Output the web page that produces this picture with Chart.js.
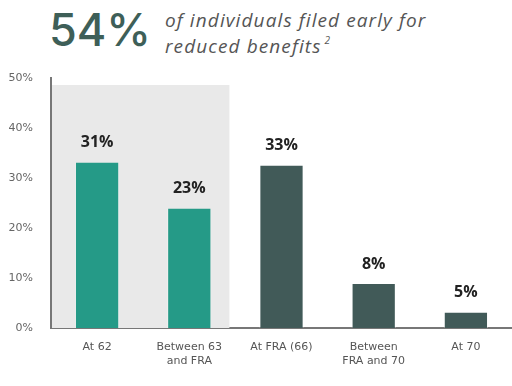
<!DOCTYPE html>
<html>
<head>
<meta charset="utf-8">
<script src="https://cdn.jsdelivr.net/npm/chart.js@4"></script>
<style>
  body { margin: 0; background: #fff; }
  #wrap { position: relative; width: 512px; height: 386px; overflow: hidden; }
  #big { position: absolute; left: 49px; top: 2px; font-family: "Inter"; font-weight: 500; font-size: 45px; letter-spacing: 0px; color: #3e5f58; }
  #sub { position: absolute; left: 165px; top: 10px; font-family: "Open Sans"; font-style: italic; font-weight: 400; font-size: 19px; letter-spacing: 1.1px; line-height: 20px; color: #555; }
  #sub sup { font-size: 10px; vertical-align: 9px; margin-left: 3px; }
  canvas { position: absolute; left: 0; top: 0; }
</style>
</head>
<body>
<div id="wrap">
  <div id="big">54%</div>
  <div id="sub">of individuals filed early for<br>reduced benefits<sup>2</sup></div>
  <canvas id="cv"></canvas>
</div>
<script>
let categorias = [['At 62'], ['Between 63', 'and FRA'], ['At FRA (66)'], ['Between', 'FRA and 70'], ['At 70']];
let valores = [33.1, 23.9, 32.5, 8.8, 3.1];
let rotulos = ['31%', '23%', '33%', '8%', '5%'];
let cores = ['#259a87', '#259a87', '#415a58', '#415a58', '#415a58'];
let ticksY = [0, 10, 20, 30, 40, 50];

// faixa cinza atras das duas primeiras barras
let faixa = {
    id: 'faixa',
    beforeDatasetsDraw(chart) {
        let c = chart.ctx;
        let x = chart.scales.x, y = chart.scales.y;
        let x1 = chart.chartArea.left + 1;
        let x2 = x.getPixelForValue(1.5) - 6;
        c.save();
        c.fillStyle = '#e9e9e9';
        c.fillRect(x1, y.getPixelForValue(48.6), x2 - x1, y.getPixelForValue(0) - y.getPixelForValue(48.6));
        c.restore();
    }
};

let textos = {
    id: 'textos',
    afterDatasetsDraw(chart) {
        let c = chart.ctx;
        c.save();
        c.font = 'bold 16px "Open Sans"';
        c.fillStyle = '#222';
        c.textAlign = 'center';
        c.textBaseline = 'middle';
        chart.getDatasetMeta(0).data.forEach(function(b, i) {
            c.fillText(rotulos[i], b.x, b.y - 20);
        });
        c.restore();
    }
};

let ctx = document.getElementById('cv').getContext('2d');
document.getElementById('cv').width = 512;
document.getElementById('cv').height = 386;

new Chart(ctx, {
    type: 'bar',
    data: {
        labels: categorias,
        datasets: [{
            data: valores,
            backgroundColor: cores,
            borderColor: 'rgba(255,255,255,0.35)',
            borderWidth: { left: 1, right: 1, top: 0, bottom: 0 },
            borderSkipped: false,
            barPercentage: 0.48,
            categoryPercentage: 1
        }]
    },
    options: {
        responsive: false,
        animation: false,
        layout: { padding: { top: 78, right: 0, left: 0, bottom: 0 } },
        plugins: { legend: { display: false }, tooltip: { enabled: false } },
        scales: {
            y: {
                min: 0, max: 50,
                afterBuildTicks(s) { s.ticks = ticksY.map(v => ({ value: v })); },
                afterFit(s) { s.width = 51; },
                grid: { display: false },
                border: { color: '#777', width: 2 },
                ticks: { color: '#666', font: { family: 'DejaVu Sans', size: 11 }, padding: 10, callback: v => v + '%' }
            },
            x: {
                afterFit(s) { s.height = 58; },
                grid: { display: false },
                border: { color: '#777', width: 2 },
                ticks: { color: '#555', font: { family: 'DejaVu Sans', size: 11 }, padding: 5, maxRotation: 0 }
            }
        }
    },
    plugins: [faixa, textos]
});
</script>
</body>
</html>
